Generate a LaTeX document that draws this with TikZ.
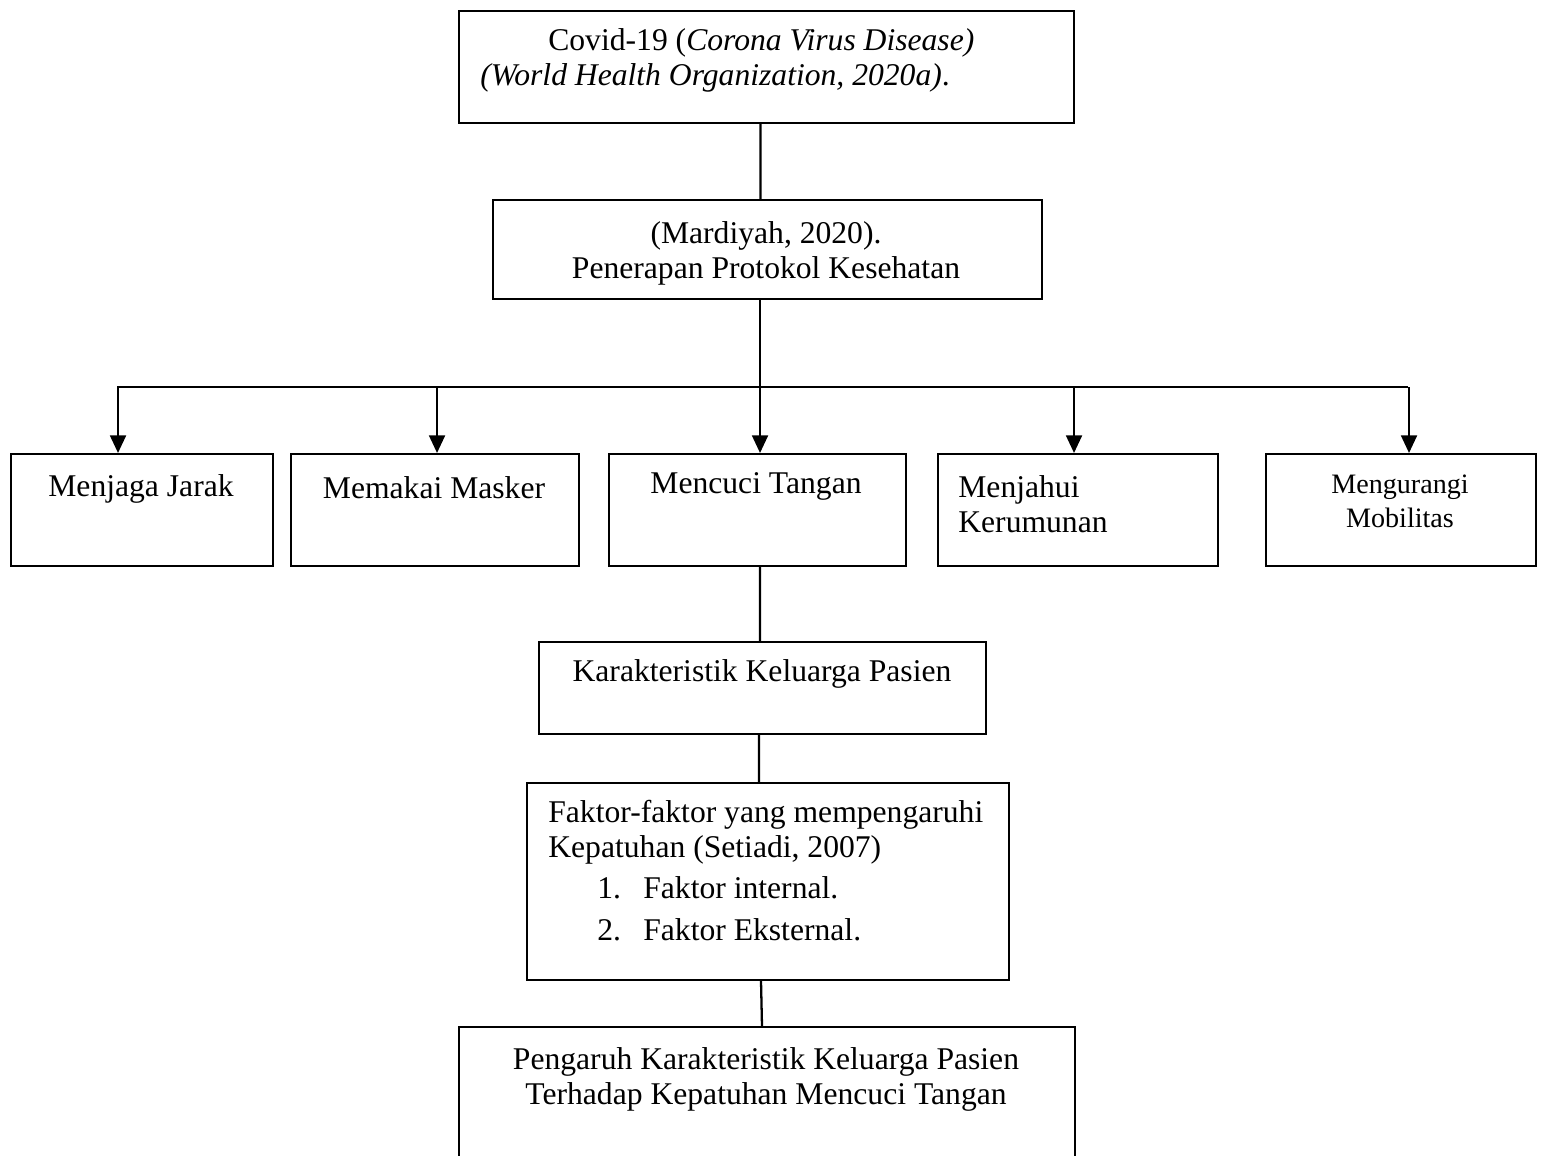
\documentclass[tikz,border=0pt]{standalone}
\usepackage{fontspec}
\setmainfont{Liberation Serif}
\usetikzlibrary{arrows.meta}

\begin{document}
\begin{tikzpicture}[x=0.02cm, y=-0.02cm,
	box/.style = {draw, line width=1.2pt, anchor=north west, inner sep=0pt, minimum height=2.24cm},
	txt/.style = {inner sep=0pt, align=center, font=\fontsize{18}{20}\selectfont},
	link/.style = {line width=1.3pt},
	arr/.style = {line width=1.3pt, -{Triangle[length=10pt, width=9pt]}}
	]
	
	\useasboundingbox (0,0) rectangle (1542,1156);
	\clip (0,0) rectangle (1542,1156);
	
	%% TOP BOXES
	
	\node [box, minimum width=12.3cm] (covid) at (458,10) {};
	\node [txt, anchor=west, align=left] (covidtext) at (480,60)
	{\hspace*{1.36cm}Covid-19 (\textit{Corona Virus Disease)}\\\textit{(World Health Organization, 2020a)}.};
	
	\node [box, minimum width=10.98cm, minimum height=1.98cm] (mardiyah) at (492,199) {};
	\node [txt] (mardiyahtext) at (766,253) {(Mardiyah, 2020).\\Penerapan Protokol Kesehatan};
	
	%% PROTOCOL ROW
	
	% Boxes
	\foreach \n/\xx/\w in {jarak/10/5.24, masker/290/5.76, cuci/608/5.94, jahui/937/5.6, mobilitas/1265/5.4}
	{
		\node [box, minimum width=\w cm] (\n) at (\xx,453) {};
	}
	
	% Labels
	\node [txt] (jaraktext)  at (141,489) {Menjaga Jarak};
	\node [txt] (maskertext) at (434,488) {Memakai Masker};
	\node [txt] (cucitext)   at (756,486) {Mencuci Tangan};
	\node [txt, anchor=west, align=left] (jahuitext) at (958,504) {Menjahui\\Kerumunan};
	\node [txt, font=\fontsize{16}{19.5}\selectfont] (mobilitastext) at (1400,501) {Mengurangi\\Mobilitas};
	
	%% LOWER BOXES
	
	\node [box, minimum width=8.94cm, minimum height=1.84cm] (karakter) at (538,641) {};
	\node [txt] (karaktertext) at (762,674) {Karakteristik Keluarga Pasien};
	
	\node [box, minimum width=9.64cm, minimum height=3.94cm] (faktor) at (526,782) {};
	\node [txt, anchor=north west, align=left] (faktortext) at (548,800)
	{Faktor-faktor yang mempengaruhi\\
		Kepatuhan (Setiadi, 2007)\\[3pt]
		\hspace*{0.98cm}\makebox[0.92cm][l]{1.}Faktor internal.\\[4pt]
		\hspace*{0.98cm}\makebox[0.92cm][l]{2.}Faktor Eksternal.};
	
	\node [box, minimum width=12.32cm, minimum height=4cm] (pengaruh) at (458,1026) {};
	\node [txt] (pengaruhtext) at (766,1079) {Pengaruh Karakteristik Keluarga Pasien\\Terhadap Kepatuhan Mencuci Tangan};
	
	%% CONNECTORS
	
	\coordinate (busL) at (117,387);
	\coordinate (busR) at (1408,387);
	
	\draw [link] ([xshift=-0.12cm]covid.south) -- ([xshift=-0.14cm]mardiyah.north);
	\draw [link] ([xshift=-0.15cm]mardiyah.south) -- ([xshift=-0.15cm]mardiyah.south |- busL);
	\draw [link] (busL) -- (busR);
	
	% Arrows down to the row
	\foreach \n/\dx in {jarak/-24, masker/2, cuci/2.5, jahui/-4, mobilitas/8}
	{
		\draw [arr] ([xshift=\dx*0.02cm]\n.north |- busL) -- ([xshift=\dx*0.02cm]\n.north);
	}
	
	\draw [link] ([xshift=0.05cm]cuci.south) -- ([xshift=-0.05cm]karakter.north);
	\draw [link] ([xshift=-0.07cm]karakter.south) -- ([xshift=-0.18cm]faktor.north);
	\draw [link] ([xshift=-0.14cm]faktor.south) -- ([xshift=-0.1cm]pengaruh.north);
	
\end{tikzpicture}
\end{document}
